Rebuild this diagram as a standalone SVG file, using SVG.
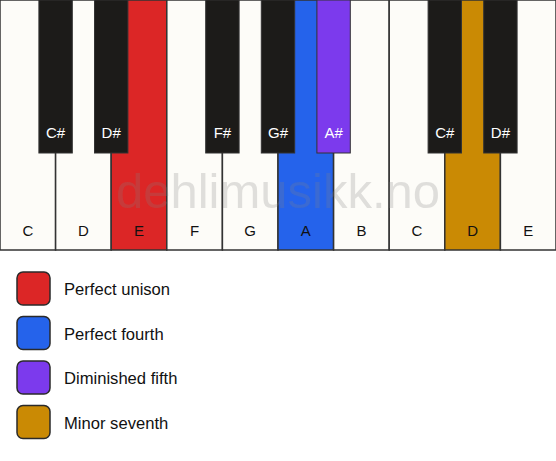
<svg xmlns="http://www.w3.org/2000/svg" width="556" height="461" viewBox="0 0 556 461">
<style>
.w{fill:#fdfcf8;stroke:#333;stroke-width:1.5}
.b{fill:#1c1b19;stroke:#333;stroke-width:1}
.lw{font-family:"Liberation Sans",Arial,sans-serif;font-size:15px;fill:#111;text-anchor:middle}
.lb{font-family:"Liberation Sans",Arial,sans-serif;font-size:15px;fill:#fff;text-anchor:middle}
.lg{fill:none;stroke:#2a2a2a;stroke-width:1.5}
.lt{font-family:"Liberation Sans",Arial,sans-serif;font-size:16.6px;fill:#111}
.wm{font-family:"Liberation Sans",Arial,sans-serif;font-size:49px;fill:#808080;fill-opacity:0.24;text-anchor:middle}
</style>
<rect width="556" height="461" fill="#ffffff"/>
<g id="white-keys">
<g id="key-C1"><rect class="w" x="0" y="0" width="55.6" height="250"/><text class="lw" x="27.8" y="236">C</text></g>
<g id="key-D1"><rect class="w" x="55.6" y="0" width="55.6" height="250"/><text class="lw" x="83.4" y="236">D</text></g>
<g id="key-E1"><rect class="w" x="111.2" y="0" width="55.6" height="250" style="fill:#dc2626"/><text class="lw" x="139" y="236">E</text></g>
<g id="key-F1"><rect class="w" x="166.8" y="0" width="55.6" height="250"/><text class="lw" x="194.6" y="236">F</text></g>
<g id="key-G1"><rect class="w" x="222.4" y="0" width="55.6" height="250"/><text class="lw" x="250.2" y="236">G</text></g>
<g id="key-A1"><rect class="w" x="278" y="0" width="55.6" height="250" style="fill:#2563eb"/><text class="lw" x="305.8" y="236">A</text></g>
<g id="key-B1"><rect class="w" x="333.6" y="0" width="55.6" height="250"/><text class="lw" x="361.4" y="236">B</text></g>
<g id="key-C2"><rect class="w" x="389.2" y="0" width="55.6" height="250"/><text class="lw" x="417" y="236">C</text></g>
<g id="key-D2"><rect class="w" x="444.8" y="0" width="55.6" height="250" style="fill:#ca8a04"/><text class="lw" x="472.6" y="236">D</text></g>
<g id="key-E2"><rect class="w" x="500.4" y="0" width="55.6" height="250"/><text class="lw" x="528.2" y="236">E</text></g>
</g>
<text class="wm" x="278" y="208">dehlimusikk.no</text>
<g id="black-keys">
<g id="key-Cs1"><rect class="b" x="38.9" y="0" width="33.4" height="153"/><text class="lb" x="55.6" y="138">C#</text></g>
<g id="key-Ds1"><rect class="b" x="94.5" y="0" width="33.4" height="153"/><text class="lb" x="111.2" y="138">D#</text></g>
<g id="key-Fs1"><rect class="b" x="205.7" y="0" width="33.4" height="153"/><text class="lb" x="222.4" y="138">F#</text></g>
<g id="key-Gs1"><rect class="b" x="261.3" y="0" width="33.4" height="153"/><text class="lb" x="278" y="138">G#</text></g>
<g id="key-As1"><rect class="b" x="316.9" y="0" width="33.4" height="153" style="fill:#7c3aed"/><text class="lb" x="333.6" y="138">A#</text></g>
<g id="key-Cs2"><rect class="b" x="428.1" y="0" width="33.4" height="153"/><text class="lb" x="444.8" y="138">C#</text></g>
<g id="key-Ds2"><rect class="b" x="483.7" y="0" width="33.4" height="153"/><text class="lb" x="500.4" y="138">D#</text></g>
</g>
<g id="legend">
<g id="legend-unison"><rect class="lg" x="17" y="272" width="33" height="33" rx="6" style="fill:#dc2626"/><text class="lt" x="64" y="295">Perfect unison</text></g>
<g id="legend-fourth"><rect class="lg" x="17" y="316.5" width="33" height="33" rx="6" style="fill:#2563eb"/><text class="lt" x="64" y="339.5">Perfect fourth</text></g>
<g id="legend-fifth"><rect class="lg" x="17" y="361" width="33" height="33" rx="6" style="fill:#7c3aed"/><text class="lt" x="64" y="384">Diminished fifth</text></g>
<g id="legend-seventh"><rect class="lg" x="17" y="405.5" width="33" height="33" rx="6" style="fill:#ca8a04"/><text class="lt" x="64" y="428.5">Minor seventh</text></g>
</g>
</svg>
